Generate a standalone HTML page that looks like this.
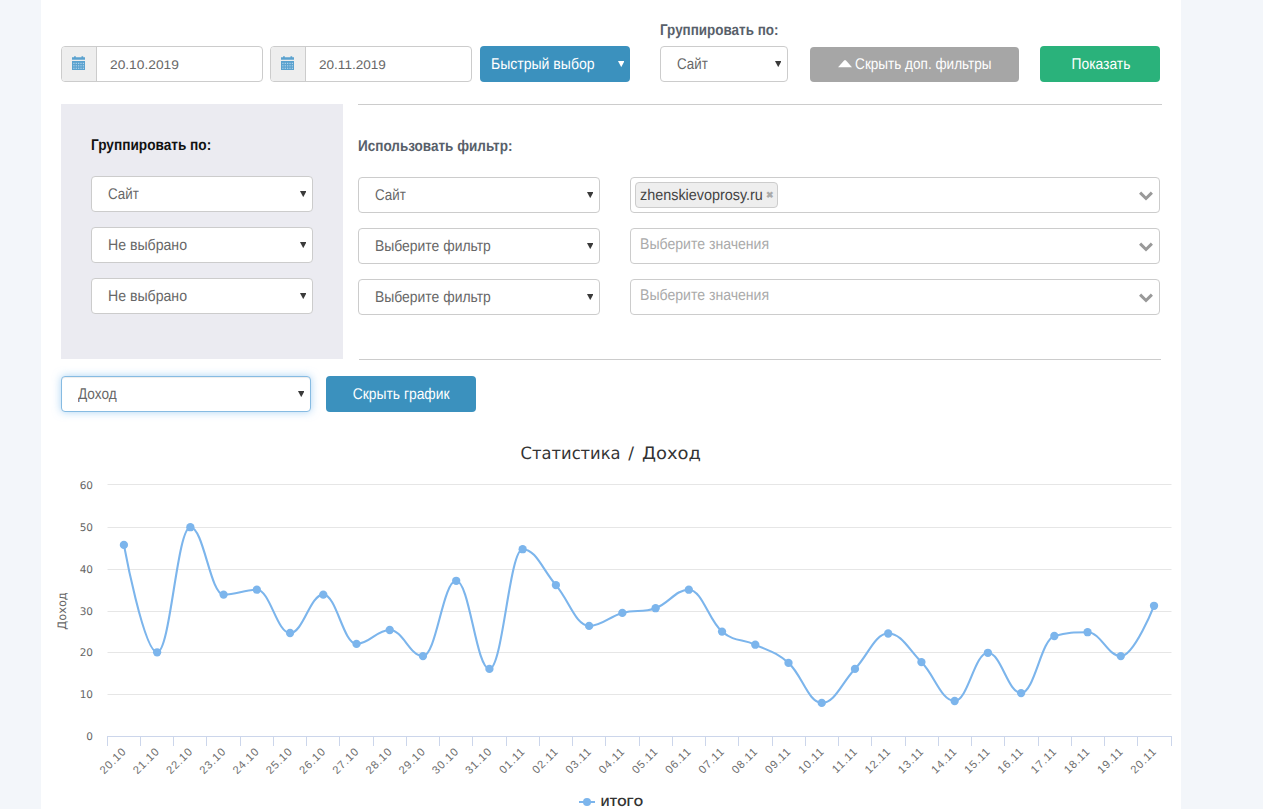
<!DOCTYPE html>
<html lang="ru">
<head>
<meta charset="utf-8">
<title>Статистика</title>
<style>
*{box-sizing:border-box;margin:0;padding:0}
html,body{width:1263px;height:809px;overflow:hidden}
body{background:#f3f6fa;font-family:"Liberation Sans",sans-serif;font-size:15px;color:#555;position:relative;text-rendering:geometricPrecision}
.page{position:absolute;left:41px;top:0;width:1140px;height:809px;background:#fff}
.abs{position:absolute}
.t{display:inline-block;position:relative;top:.8px;transform-origin:0 50%;transform:scaleX(0.900);white-space:nowrap}
.tc{display:inline-block;position:relative;top:.8px;transform-origin:50% 50%;transform:scaleX(0.900);white-space:nowrap}
/* input groups */
.ig{position:absolute;top:46px;height:36px;border:1px solid #ccc;border-radius:4px;background:#fff;overflow:hidden}
.ig .addon{position:absolute;left:0;top:0;width:35px;height:34px;background:#eee;border-right:1px solid #ccc}
.ig .addon svg{position:absolute;left:9.6px;top:9px}
.ig .val{position:absolute;left:48px;top:0;line-height:35px;font-size:15.5px;color:#676767}
/* selects */
.sel{position:absolute;height:36px;border:1px solid #ccc;border-radius:4px;background:#fff;font-size:15.5px;color:#676767;line-height:34px;padding-left:16px;white-space:nowrap}
.sel .ar,.btn .ar{position:absolute;right:5.6px;top:13.8px;width:6.5px;height:6.1px}
.btn .ar{top:14.8px}
.sel.focus{border-color:#86bbe2;box-shadow:inset 0 1px 1px rgba(0,0,0,.075),0 0 8px rgba(102,175,233,.55)}
/* buttons */
.btn{position:absolute;height:36px;border-radius:4px;color:#fff;font-size:15.5px;line-height:35px;text-align:center;white-space:nowrap}
.btn-blue{background:#3b91be}
.btn-gray{background:#a6a6a6}
.btn-green{background:#2ab27b}
.lbl{position:absolute;font-weight:bold;font-size:15.5px;white-space:nowrap;line-height:16px}
.hr{position:absolute;height:1px;background:#ccc;left:317px;width:804px}
.panel{position:absolute;left:20px;top:104px;width:282px;height:254.5px;background:#ebebf1}
/* multi select */
.ms{position:absolute;left:589px;width:530px;height:36px;border:1px solid #ccc;border-radius:4px;background:#fff}
.ms .ph{position:absolute;left:8.9px;top:-0.4px;line-height:31px;font-size:15.5px;color:#aaa;white-space:nowrap}
.ms .chev{position:absolute;right:5.6px;top:12.7px}
.tag{position:absolute;left:4px;top:4px;height:26px;border:1px solid #ccc;border-radius:4px;background:#eee;color:#444;font-size:15.5px;line-height:23px;padding:0 3.9px 0 4px;white-space:nowrap}
.tag b{font-size:9px;color:#aaa;margin-left:2.8px;position:relative;top:-1px}
/* chart */
.chart{position:absolute;left:0;top:430px}
.chart text{font-family:"DejaVu Sans","Liberation Sans",sans-serif}
.ctitle{font-size:17px;fill:#333}
.clab{font-size:10.5px;fill:#666}
.caxt{font-size:11.6px;fill:#666}
.cxl{font-size:11.2px;fill:#6e6e6e;letter-spacing:.85px;font-family:"Liberation Sans",sans-serif !important}
.cleg{font-size:12px;font-weight:bold;fill:#333;font-family:"Liberation Sans",sans-serif !important}
</style>
</head>
<body>
<div class="page">

  <!-- top row -->
  <div class="ig" style="left:20px;width:202px">
    <div class="addon"><svg width="13.3" height="14" viewBox="0 0 14 14" preserveAspectRatio="none"><path d="M0 1.2 H2.2 V0.3 H4 V1.2 H10 V0.3 H11.8 V1.2 H14 V3.8 H0 Z" fill="#5ba2cf"/>       <rect x="0" y="5" width="14" height="9" fill="#5ba2cf"/>       <g fill="#b5d6ec">         <rect x="1.4" y="6.8" width="1.2" height="1.2"/><rect x="3.9" y="6.8" width="1.2" height="1.2"/><rect x="6.4" y="6.8" width="1.2" height="1.2"/><rect x="8.9" y="6.8" width="1.2" height="1.2"/><rect x="11.4" y="6.8" width="1.2" height="1.2"/>         <rect x="1.4" y="9.2" width="1.2" height="1.2"/><rect x="3.9" y="9.2" width="1.2" height="1.2"/><rect x="6.4" y="9.2" width="1.2" height="1.2"/><rect x="8.9" y="9.2" width="1.2" height="1.2"/><rect x="11.4" y="9.2" width="1.2" height="1.2"/>         <rect x="1.4" y="11.7" width="1.2" height="1.2"/><rect x="3.9" y="11.7" width="1.2" height="1.2"/><rect x="6.4" y="11.7" width="1.2" height="1.2"/><rect x="8.9" y="11.7" width="1.2" height="1.2"/><rect x="11.4" y="11.7" width="1.2" height="1.2"/>       </g></svg></div>
    <div class="val"><span class="t" style="font-size:12.5px;top:-.3px;transform:scaleX(1.1)">20.10.2019</span></div>
  </div>
  <div class="ig" style="left:229px;width:202px">
    <div class="addon"><svg width="13.3" height="14" viewBox="0 0 14 14" preserveAspectRatio="none"><path d="M0 1.2 H2.2 V0.3 H4 V1.2 H10 V0.3 H11.8 V1.2 H14 V3.8 H0 Z" fill="#5ba2cf"/>       <rect x="0" y="5" width="14" height="9" fill="#5ba2cf"/>       <g fill="#b5d6ec">         <rect x="1.4" y="6.8" width="1.2" height="1.2"/><rect x="3.9" y="6.8" width="1.2" height="1.2"/><rect x="6.4" y="6.8" width="1.2" height="1.2"/><rect x="8.9" y="6.8" width="1.2" height="1.2"/><rect x="11.4" y="6.8" width="1.2" height="1.2"/>         <rect x="1.4" y="9.2" width="1.2" height="1.2"/><rect x="3.9" y="9.2" width="1.2" height="1.2"/><rect x="6.4" y="9.2" width="1.2" height="1.2"/><rect x="8.9" y="9.2" width="1.2" height="1.2"/><rect x="11.4" y="9.2" width="1.2" height="1.2"/>         <rect x="1.4" y="11.7" width="1.2" height="1.2"/><rect x="3.9" y="11.7" width="1.2" height="1.2"/><rect x="6.4" y="11.7" width="1.2" height="1.2"/><rect x="8.9" y="11.7" width="1.2" height="1.2"/><rect x="11.4" y="11.7" width="1.2" height="1.2"/>       </g></svg></div>
    <div class="val"><span class="t" style="font-size:12.5px;top:-.3px;transform:scaleX(1.085)">20.11.2019</span></div>
  </div>
  <div class="btn btn-blue" style="left:439px;top:46px;width:150px;text-align:left;padding-left:11px"><span class="t" style="transform:scaleX(0.905)">Быстрый выбор</span><svg class="ar" viewBox="0 0 7 7" preserveAspectRatio="none"><path d="M0 0 H7 L3.5 7 Z" fill="#fff"/></svg></div>

  <div class="lbl" style="left:619px;top:22px;color:#58606a"><span class="t" style="transform:scaleX(.867)">Группировать по:</span></div>
  <div class="sel" style="left:619px;top:46px;width:128px"><span class="t" style="transform:scaleX(0.861)">Сайт</span><svg class="ar" viewBox="0 0 7 7" preserveAspectRatio="none"><path d="M0 0 H7 L3.5 7 Z" fill="#3a3a3a"/></svg></div>

  <div class="btn btn-gray" style="left:769px;top:47px;width:209px;height:35px;line-height:34px"><span class="tc" style="transform:scaleX(0.874)"><svg width="16" height="7.2" viewBox="0 0 15 7.2" preserveAspectRatio="none" style="margin-right:3.5px;position:relative;top:-1.3px"><path d="M0 7.2 L6.7 0.2 H8.3 L15 7.2 Z" fill="#fff"/></svg>Скрыть доп. фильтры</span></div>
  <div class="btn btn-green" style="left:999px;top:46px;width:120px"><span class="tc" style="transform:scaleX(0.892);left:1px">Показать</span></div>

  <div class="hr" style="top:104px"></div>

  <!-- group panel -->
  <div class="panel"></div>
  <div class="lbl" style="left:49.8px;top:137px;color:#111"><span class="t" style="transform:scaleX(.88)">Группировать по:</span></div>
  <div class="sel" style="left:50px;top:176px;width:222px"><span class="t" style="transform:scaleX(0.861)">Сайт</span><svg class="ar" viewBox="0 0 7 7" preserveAspectRatio="none"><path d="M0 0 H7 L3.5 7 Z" fill="#3a3a3a"/></svg></div>
  <div class="sel" style="left:50px;top:227px;width:222px"><span class="t" style="transform:scaleX(0.910)">Не выбрано</span><svg class="ar" viewBox="0 0 7 7" preserveAspectRatio="none"><path d="M0 0 H7 L3.5 7 Z" fill="#3a3a3a"/></svg></div>
  <div class="sel" style="left:50px;top:278px;width:222px"><span class="t" style="transform:scaleX(0.910)">Не выбрано</span><svg class="ar" viewBox="0 0 7 7" preserveAspectRatio="none"><path d="M0 0 H7 L3.5 7 Z" fill="#3a3a3a"/></svg></div>

  <!-- filters -->
  <div class="lbl" style="left:317px;top:138px;color:#58606a"><span class="t" style="transform:scaleX(.872)">Использовать фильтр:</span></div>
  <div class="sel" style="left:317px;top:177px;width:242px"><span class="t" style="transform:scaleX(0.861)">Сайт</span><svg class="ar" viewBox="0 0 7 7" preserveAspectRatio="none"><path d="M0 0 H7 L3.5 7 Z" fill="#3a3a3a"/></svg></div>
  <div class="sel" style="left:317px;top:228px;width:242px"><span class="t" style="transform:scaleX(0.898)">Выберите фильтр</span><svg class="ar" viewBox="0 0 7 7" preserveAspectRatio="none"><path d="M0 0 H7 L3.5 7 Z" fill="#3a3a3a"/></svg></div>
  <div class="sel" style="left:317px;top:279px;width:242px"><span class="t" style="transform:scaleX(0.898)">Выберите фильтр</span><svg class="ar" viewBox="0 0 7 7" preserveAspectRatio="none"><path d="M0 0 H7 L3.5 7 Z" fill="#3a3a3a"/></svg></div>

  <div class="ms" style="top:177px"><div class="tag"><span class="t" style="transform:scaleX(0.928);margin-right:-9.2px">zhenskievoprosy.ru</span><b>✖</b></div><svg class="chev" width="14" height="10" viewBox="0 0 14 10"><path d="M1.1 1.6 L7 7.5 L12.9 1.6" fill="none" stroke="#999" stroke-width="3" stroke-linejoin="miter"/></svg></div>
  <div class="ms" style="top:228px"><div class="ph"><span class="t" style="transform:scaleX(0.908)">Выберите значения</span></div><svg class="chev" width="14" height="10" viewBox="0 0 14 10"><path d="M1.1 1.6 L7 7.5 L12.9 1.6" fill="none" stroke="#999" stroke-width="3" stroke-linejoin="miter"/></svg></div>
  <div class="ms" style="top:279px"><div class="ph"><span class="t" style="transform:scaleX(0.908)">Выберите значения</span></div><svg class="chev" width="14" height="10" viewBox="0 0 14 10"><path d="M1.1 1.6 L7 7.5 L12.9 1.6" fill="none" stroke="#999" stroke-width="3" stroke-linejoin="miter"/></svg></div>

  <div class="hr" style="top:359px;left:318px;width:802px"></div>

  <!-- chart controls -->
  <div class="sel focus" style="left:20px;top:376px;width:250px"><span class="t" style="transform:scaleX(0.878)">Доход</span><svg class="ar" viewBox="0 0 7 7" preserveAspectRatio="none"><path d="M0 0 H7 L3.5 7 Z" fill="#3a3a3a"/></svg></div>
  <div class="btn btn-blue" style="left:285px;top:376px;width:150px"><span class="tc" style="transform:scaleX(0.893)">Скрыть график</span></div>

  <svg class="chart" width="1140" height="379" viewBox="41 430 1140 379">
<path d="M 107.5 484.5 L 1171.5 484.5" stroke="#e6e6e6" stroke-width="1" fill="none"/>
<path d="M 107.5 527.5 L 1171.5 527.5" stroke="#e6e6e6" stroke-width="1" fill="none"/>
<path d="M 107.5 569.5 L 1171.5 569.5" stroke="#e6e6e6" stroke-width="1" fill="none"/>
<path d="M 107.5 611.5 L 1171.5 611.5" stroke="#e6e6e6" stroke-width="1" fill="none"/>
<path d="M 107.5 652.5 L 1171.5 652.5" stroke="#e6e6e6" stroke-width="1" fill="none"/>
<path d="M 107.5 694.5 L 1171.5 694.5" stroke="#e6e6e6" stroke-width="1" fill="none"/>
<path d="M 107.5 736.5 L 1171.5 736.5" stroke="#ccd6eb" stroke-width="1" fill="none"/>
<path d="M 107.5 736 L 107.5 746" stroke="#ccd6eb" stroke-width="1" fill="none"/>
<path d="M 140.5 736 L 140.5 746" stroke="#ccd6eb" stroke-width="1" fill="none"/>
<path d="M 173.5 736 L 173.5 746" stroke="#ccd6eb" stroke-width="1" fill="none"/>
<path d="M 206.5 736 L 206.5 746" stroke="#ccd6eb" stroke-width="1" fill="none"/>
<path d="M 240.5 736 L 240.5 746" stroke="#ccd6eb" stroke-width="1" fill="none"/>
<path d="M 273.5 736 L 273.5 746" stroke="#ccd6eb" stroke-width="1" fill="none"/>
<path d="M 306.5 736 L 306.5 746" stroke="#ccd6eb" stroke-width="1" fill="none"/>
<path d="M 339.5 736 L 339.5 746" stroke="#ccd6eb" stroke-width="1" fill="none"/>
<path d="M 373.5 736 L 373.5 746" stroke="#ccd6eb" stroke-width="1" fill="none"/>
<path d="M 406.5 736 L 406.5 746" stroke="#ccd6eb" stroke-width="1" fill="none"/>
<path d="M 439.5 736 L 439.5 746" stroke="#ccd6eb" stroke-width="1" fill="none"/>
<path d="M 472.5 736 L 472.5 746" stroke="#ccd6eb" stroke-width="1" fill="none"/>
<path d="M 506.5 736 L 506.5 746" stroke="#ccd6eb" stroke-width="1" fill="none"/>
<path d="M 539.5 736 L 539.5 746" stroke="#ccd6eb" stroke-width="1" fill="none"/>
<path d="M 572.5 736 L 572.5 746" stroke="#ccd6eb" stroke-width="1" fill="none"/>
<path d="M 605.5 736 L 605.5 746" stroke="#ccd6eb" stroke-width="1" fill="none"/>
<path d="M 639.5 736 L 639.5 746" stroke="#ccd6eb" stroke-width="1" fill="none"/>
<path d="M 672.5 736 L 672.5 746" stroke="#ccd6eb" stroke-width="1" fill="none"/>
<path d="M 705.5 736 L 705.5 746" stroke="#ccd6eb" stroke-width="1" fill="none"/>
<path d="M 738.5 736 L 738.5 746" stroke="#ccd6eb" stroke-width="1" fill="none"/>
<path d="M 772.5 736 L 772.5 746" stroke="#ccd6eb" stroke-width="1" fill="none"/>
<path d="M 805.5 736 L 805.5 746" stroke="#ccd6eb" stroke-width="1" fill="none"/>
<path d="M 838.5 736 L 838.5 746" stroke="#ccd6eb" stroke-width="1" fill="none"/>
<path d="M 871.5 736 L 871.5 746" stroke="#ccd6eb" stroke-width="1" fill="none"/>
<path d="M 905.5 736 L 905.5 746" stroke="#ccd6eb" stroke-width="1" fill="none"/>
<path d="M 938.5 736 L 938.5 746" stroke="#ccd6eb" stroke-width="1" fill="none"/>
<path d="M 971.5 736 L 971.5 746" stroke="#ccd6eb" stroke-width="1" fill="none"/>
<path d="M 1004.5 736 L 1004.5 746" stroke="#ccd6eb" stroke-width="1" fill="none"/>
<path d="M 1038.5 736 L 1038.5 746" stroke="#ccd6eb" stroke-width="1" fill="none"/>
<path d="M 1071.5 736 L 1071.5 746" stroke="#ccd6eb" stroke-width="1" fill="none"/>
<path d="M 1104.5 736 L 1104.5 746" stroke="#ccd6eb" stroke-width="1" fill="none"/>
<path d="M 1137.5 736 L 1137.5 746" stroke="#ccd6eb" stroke-width="1" fill="none"/>
<path d="M 1171.5 736 L 1171.5 746" stroke="#ccd6eb" stroke-width="1" fill="none"/>
<text y="459" class="ctitle"><tspan x="520.6" textLength="100" lengthAdjust="spacingAndGlyphs">Статистика</tspan><tspan> </tspan><tspan x="628.3">/</tspan><tspan> </tspan><tspan x="642" textLength="59" lengthAdjust="spacingAndGlyphs">Доход</tspan></text>
<text x="93" y="488.9" text-anchor="end" class="clab">60</text>
<text x="93" y="530.8" text-anchor="end" class="clab">50</text>
<text x="93" y="572.6" text-anchor="end" class="clab">40</text>
<text x="93" y="614.5" text-anchor="end" class="clab">30</text>
<text x="93" y="656.4" text-anchor="end" class="clab">20</text>
<text x="93" y="698.2" text-anchor="end" class="clab">10</text>
<text x="93" y="740.1" text-anchor="end" class="clab">0</text>
<text x="0" y="0" text-anchor="middle" class="caxt" textLength="37.5" lengthAdjust="spacingAndGlyphs" transform="translate(66.3 611) rotate(-90)">Доход</text>
<text x="0" y="0" text-anchor="end" class="cxl" transform="translate(127.10 752) rotate(-45)">20.10</text>
<text x="0" y="0" text-anchor="end" class="cxl" transform="translate(160.33 752) rotate(-45)">21.10</text>
<text x="0" y="0" text-anchor="end" class="cxl" transform="translate(193.56 752) rotate(-45)">22.10</text>
<text x="0" y="0" text-anchor="end" class="cxl" transform="translate(226.79 752) rotate(-45)">23.10</text>
<text x="0" y="0" text-anchor="end" class="cxl" transform="translate(260.02 752) rotate(-45)">24.10</text>
<text x="0" y="0" text-anchor="end" class="cxl" transform="translate(293.25 752) rotate(-45)">25.10</text>
<text x="0" y="0" text-anchor="end" class="cxl" transform="translate(326.48 752) rotate(-45)">26.10</text>
<text x="0" y="0" text-anchor="end" class="cxl" transform="translate(359.71 752) rotate(-45)">27.10</text>
<text x="0" y="0" text-anchor="end" class="cxl" transform="translate(392.94 752) rotate(-45)">28.10</text>
<text x="0" y="0" text-anchor="end" class="cxl" transform="translate(426.17 752) rotate(-45)">29.10</text>
<text x="0" y="0" text-anchor="end" class="cxl" transform="translate(459.40 752) rotate(-45)">30.10</text>
<text x="0" y="0" text-anchor="end" class="cxl" transform="translate(492.63 752) rotate(-45)">31.10</text>
<text x="0" y="0" text-anchor="end" class="cxl" transform="translate(525.86 752) rotate(-45)">01.11</text>
<text x="0" y="0" text-anchor="end" class="cxl" transform="translate(559.09 752) rotate(-45)">02.11</text>
<text x="0" y="0" text-anchor="end" class="cxl" transform="translate(592.32 752) rotate(-45)">03.11</text>
<text x="0" y="0" text-anchor="end" class="cxl" transform="translate(625.55 752) rotate(-45)">04.11</text>
<text x="0" y="0" text-anchor="end" class="cxl" transform="translate(658.78 752) rotate(-45)">05.11</text>
<text x="0" y="0" text-anchor="end" class="cxl" transform="translate(692.01 752) rotate(-45)">06.11</text>
<text x="0" y="0" text-anchor="end" class="cxl" transform="translate(725.24 752) rotate(-45)">07.11</text>
<text x="0" y="0" text-anchor="end" class="cxl" transform="translate(758.47 752) rotate(-45)">08.11</text>
<text x="0" y="0" text-anchor="end" class="cxl" transform="translate(791.70 752) rotate(-45)">09.11</text>
<text x="0" y="0" text-anchor="end" class="cxl" transform="translate(824.93 752) rotate(-45)">10.11</text>
<text x="0" y="0" text-anchor="end" class="cxl" transform="translate(858.16 752) rotate(-45)">11.11</text>
<text x="0" y="0" text-anchor="end" class="cxl" transform="translate(891.39 752) rotate(-45)">12.11</text>
<text x="0" y="0" text-anchor="end" class="cxl" transform="translate(924.62 752) rotate(-45)">13.11</text>
<text x="0" y="0" text-anchor="end" class="cxl" transform="translate(957.85 752) rotate(-45)">14.11</text>
<text x="0" y="0" text-anchor="end" class="cxl" transform="translate(991.08 752) rotate(-45)">15.11</text>
<text x="0" y="0" text-anchor="end" class="cxl" transform="translate(1024.31 752) rotate(-45)">16.11</text>
<text x="0" y="0" text-anchor="end" class="cxl" transform="translate(1057.54 752) rotate(-45)">17.11</text>
<text x="0" y="0" text-anchor="end" class="cxl" transform="translate(1090.77 752) rotate(-45)">18.11</text>
<text x="0" y="0" text-anchor="end" class="cxl" transform="translate(1124.00 752) rotate(-45)">19.11</text>
<text x="0" y="0" text-anchor="end" class="cxl" transform="translate(1157.23 752) rotate(-45)">20.11</text>
<path d="M 123.90 544.90 C 123.90 544.90 143.84 652.30 157.13 652.30 C 170.42 652.30 177.07 527.20 190.36 527.20 C 203.65 527.20 210.30 594.60 223.59 594.60 C 236.88 594.60 243.53 589.70 256.82 589.70 C 270.11 589.70 276.76 633.00 290.05 633.00 C 303.34 633.00 309.99 594.60 323.28 594.60 C 336.57 594.60 343.22 643.90 356.51 643.90 C 369.80 643.90 376.45 630.00 389.74 630.00 C 403.03 630.00 409.68 656.10 422.97 656.10 C 436.26 656.10 442.91 580.80 456.20 580.80 C 469.49 580.80 476.14 668.90 489.43 668.90 C 502.72 668.90 509.37 549.20 522.66 549.20 C 535.95 549.20 542.60 569.76 555.89 585.10 C 569.18 600.44 575.83 625.90 589.12 625.90 C 602.41 625.90 609.06 616.44 622.35 612.90 C 635.64 609.36 642.29 612.84 655.58 608.20 C 668.87 603.56 675.52 589.70 688.81 589.70 C 702.10 589.70 708.75 620.60 722.04 631.60 C 735.33 642.60 741.98 638.44 755.27 644.70 C 768.56 650.96 775.21 651.26 788.50 662.90 C 801.79 674.54 808.44 702.90 821.73 702.90 C 835.02 702.90 841.67 682.78 854.96 668.90 C 868.25 655.02 874.90 633.50 888.19 633.50 C 901.48 633.50 908.13 648.60 921.42 662.10 C 934.71 675.60 941.36 701.00 954.65 701.00 C 967.94 701.00 974.59 652.80 987.88 652.80 C 1001.17 652.80 1007.82 693.10 1021.11 693.10 C 1034.40 693.10 1041.05 639.80 1054.34 636.00 C 1067.63 632.20 1074.28 632.20 1087.57 632.20 C 1100.86 632.20 1107.51 656.10 1120.80 656.10 C 1134.09 656.10 1154.03 605.80 1154.03 605.80" stroke="#7cb5ec" stroke-width="2.1" fill="none" stroke-linejoin="round" stroke-linecap="round"/>
<circle cx="123.90" cy="544.90" r="4.15" fill="#7cb5ec"/>
<circle cx="157.13" cy="652.30" r="4.15" fill="#7cb5ec"/>
<circle cx="190.36" cy="527.20" r="4.15" fill="#7cb5ec"/>
<circle cx="223.59" cy="594.60" r="4.15" fill="#7cb5ec"/>
<circle cx="256.82" cy="589.70" r="4.15" fill="#7cb5ec"/>
<circle cx="290.05" cy="633.00" r="4.15" fill="#7cb5ec"/>
<circle cx="323.28" cy="594.60" r="4.15" fill="#7cb5ec"/>
<circle cx="356.51" cy="643.90" r="4.15" fill="#7cb5ec"/>
<circle cx="389.74" cy="630.00" r="4.15" fill="#7cb5ec"/>
<circle cx="422.97" cy="656.10" r="4.15" fill="#7cb5ec"/>
<circle cx="456.20" cy="580.80" r="4.15" fill="#7cb5ec"/>
<circle cx="489.43" cy="668.90" r="4.15" fill="#7cb5ec"/>
<circle cx="522.66" cy="549.20" r="4.15" fill="#7cb5ec"/>
<circle cx="555.89" cy="585.10" r="4.15" fill="#7cb5ec"/>
<circle cx="589.12" cy="625.90" r="4.15" fill="#7cb5ec"/>
<circle cx="622.35" cy="612.90" r="4.15" fill="#7cb5ec"/>
<circle cx="655.58" cy="608.20" r="4.15" fill="#7cb5ec"/>
<circle cx="688.81" cy="589.70" r="4.15" fill="#7cb5ec"/>
<circle cx="722.04" cy="631.60" r="4.15" fill="#7cb5ec"/>
<circle cx="755.27" cy="644.70" r="4.15" fill="#7cb5ec"/>
<circle cx="788.50" cy="662.90" r="4.15" fill="#7cb5ec"/>
<circle cx="821.73" cy="702.90" r="4.15" fill="#7cb5ec"/>
<circle cx="854.96" cy="668.90" r="4.15" fill="#7cb5ec"/>
<circle cx="888.19" cy="633.50" r="4.15" fill="#7cb5ec"/>
<circle cx="921.42" cy="662.10" r="4.15" fill="#7cb5ec"/>
<circle cx="954.65" cy="701.00" r="4.15" fill="#7cb5ec"/>
<circle cx="987.88" cy="652.80" r="4.15" fill="#7cb5ec"/>
<circle cx="1021.11" cy="693.10" r="4.15" fill="#7cb5ec"/>
<circle cx="1054.34" cy="636.00" r="4.15" fill="#7cb5ec"/>
<circle cx="1087.57" cy="632.20" r="4.15" fill="#7cb5ec"/>
<circle cx="1120.80" cy="656.10" r="4.15" fill="#7cb5ec"/>
<circle cx="1154.03" cy="605.80" r="4.15" fill="#7cb5ec"/>
<path d="M 579 802 L 595 802" stroke="#7cb5ec" stroke-width="2" fill="none"/>
<circle cx="587" cy="802" r="4" fill="#7cb5ec"/>
<text x="600.8" y="806.2" class="cleg" letter-spacing="0.35">ИТОГО</text>
</svg>
</div>


</body>
</html>
